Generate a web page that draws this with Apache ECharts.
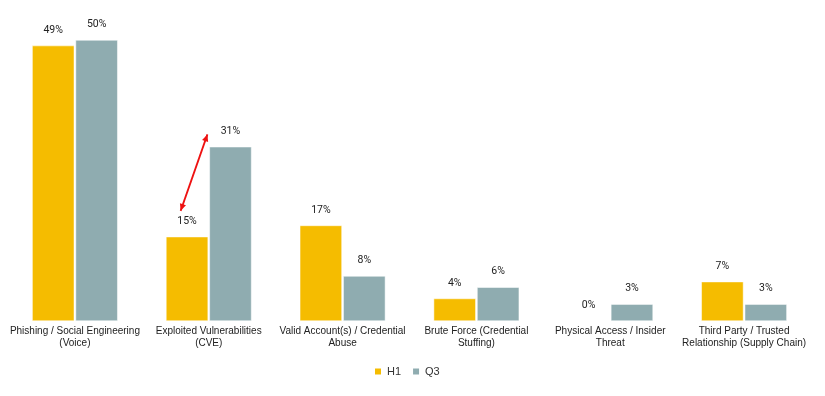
<!DOCTYPE html>
<html><head><meta charset="utf-8">
<script src="https://cdn.jsdelivr.net/npm/echarts@6/dist/echarts.min.js"></script>
<style>html,body{margin:0;padding:0;background:#fff}#c{width:825px;height:396px}</style>
</head><body><div id="c"></div>
<script>
const categories = ['Phishing / Social Engineering\n(Voice)', 'Exploited Vulnerabilities\n(CVE)', 'Valid Account(s) / Credential\nAbuse', 'Brute Force (Credential\nStuffing)', 'Physical Access / Insider\nThreat', 'Third Party / Trusted\nRelationship (Supply Chain)'];
const h1 = [49, 15, 17, 4, 0, 7];
const q3 = [50, 31, 8, 6, 3, 3];
const seriesNames = ['H1', 'Q3'];
// arrow annotation endpoints in data units: [category index, offset fraction of category width, value]
const arrowFrom = [1, -0.21, 19.6];
const arrowTo = [1, -0.01, 33.2];

const chart = echarts.init(document.getElementById('c'));
const lbl = {show: true, position: 'top', distance: 10, formatter: '{c}%', color: '#222', fontSize: 10.5, fontFamily: 'Roboto'};
chart.setOption({
  animation: false,
  grid: {left: 8, right: 14, top: 40, bottom: 75},
  legend: {bottom: 14, left: 368, itemWidth: 8, itemHeight: 8, itemGap: 10, icon: 'rect',
    textStyle: {fontSize: 11, color: '#333', fontFamily: 'Liberation Sans'}, data: seriesNames},
  xAxis: {type: 'category', data: categories, axisLine: {show: false}, axisTick: {show: false},
    axisLabel: {interval: 0, fontSize: 10, lineHeight: 12, color: '#222', fontFamily: 'Liberation Sans', margin: 4}},
  yAxis: {type: 'value', min: 0, max: 50, show: false, splitLine: {show: false}},
  series: [
    {name: seriesNames[0], type: 'bar', data: h1, barWidth: '31.5%', barGap: '3%', itemStyle: {color: '#F5BC00', borderColor: '#fff', borderWidth: 0.5}, label: lbl},
    {name: seriesNames[1], type: 'bar', data: q3, barWidth: '31.5%', itemStyle: {color: '#8FACB0', borderColor: '#fff', borderWidth: 0.5}, label: lbl}
  ]
});
function drawArrow() {
  const catW = chart.convertToPixel({xAxisIndex: 0}, 1) - chart.convertToPixel({xAxisIndex: 0}, 0);
  const p = a => [chart.convertToPixel({xAxisIndex: 0}, a[0]) + a[1] * catW, chart.convertToPixel({yAxisIndex: 0}, a[2])];
  const A = p(arrowFrom), B = p(arrowTo);
  const ang = Math.atan2(B[1] - A[1], B[0] - A[0]);
  const head = (P, dir) => {
    const L = 7, W = 3.2;
    const ux = Math.cos(ang) * dir, uy = Math.sin(ang) * dir;
    return [[P[0], P[1]], [P[0] - ux * L - uy * W, P[1] - uy * L + ux * W], [P[0] - ux * L + uy * W, P[1] - uy * L - ux * W]];
  };
  const r = '#EE1111';
  chart.setOption({graphic: [
    {type: 'line', shape: {x1: A[0], y1: A[1], x2: B[0], y2: B[1]}, style: {stroke: r, lineWidth: 1.8}},
    {type: 'polygon', shape: {points: head(B, 1)}, style: {fill: r}},
    {type: 'polygon', shape: {points: head(A, -1)}, style: {fill: r}}
  ]});
}
drawArrow();
</script></body></html>
